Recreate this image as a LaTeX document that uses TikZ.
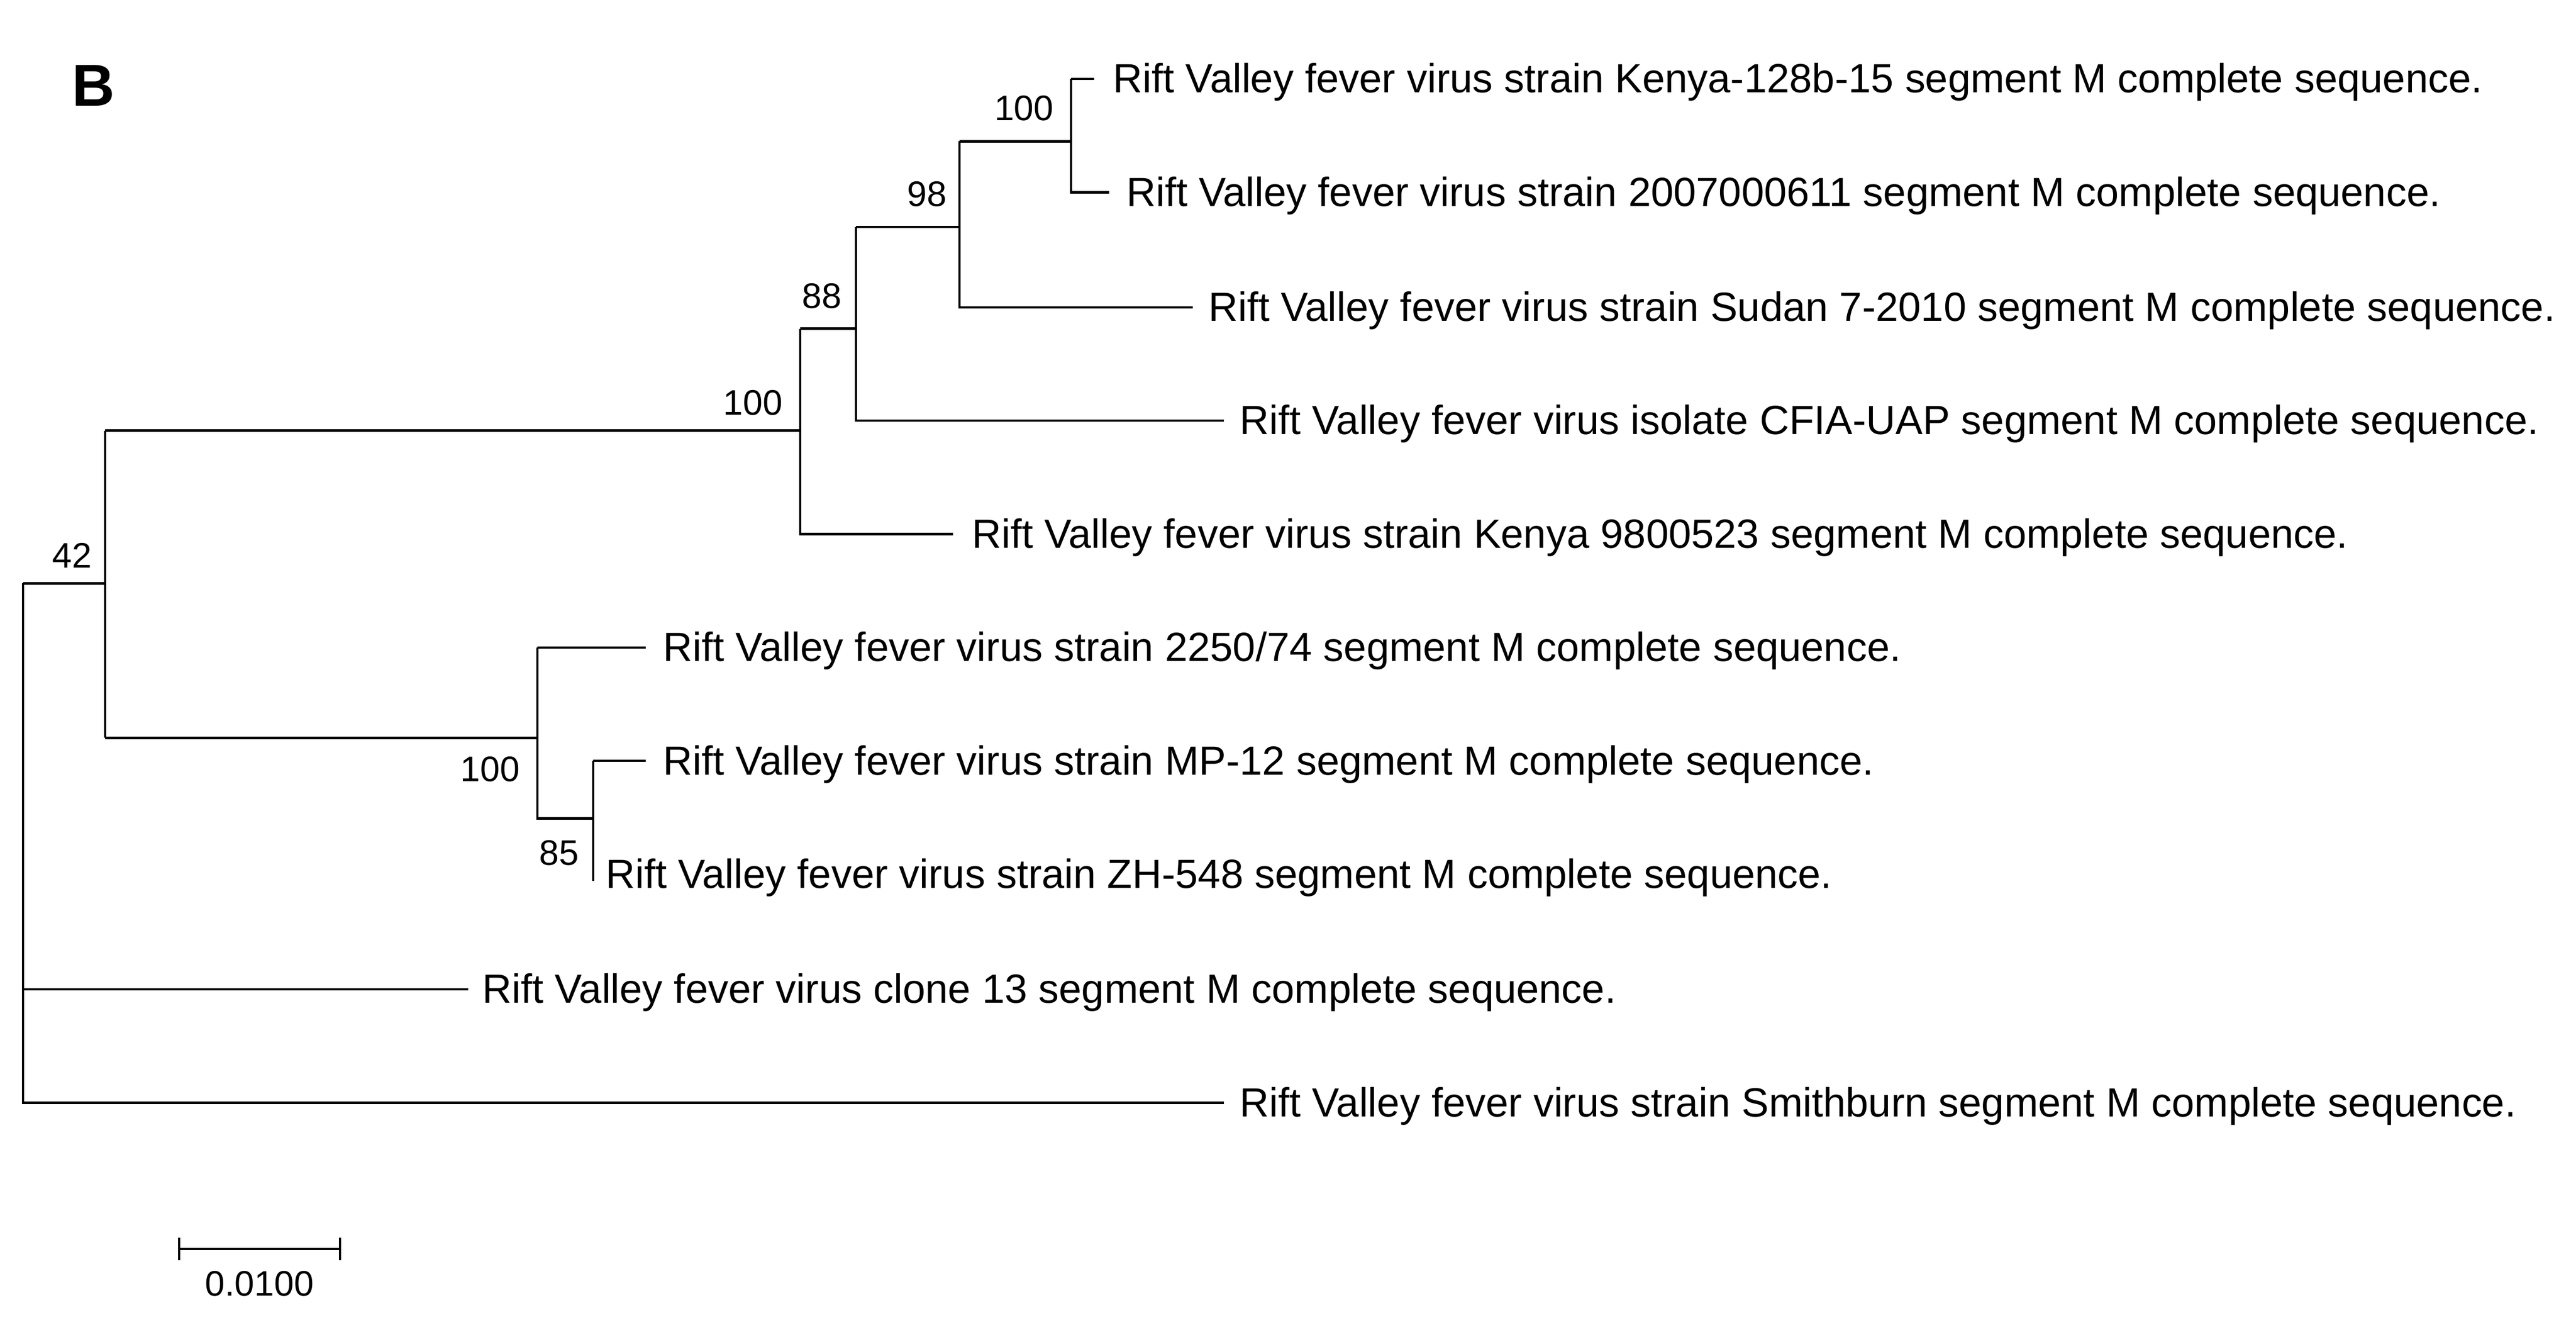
\documentclass[tikz,border=0pt]{standalone}
\usepackage{fontspec}
\setmainfont{Liberation Sans}
\begin{document}
\begin{tikzpicture}[x=0.5pt,y=-0.5pt,line width=0.7pt,
  lab/.style={anchor=west,inner sep=0pt,yshift=-1pt,font=\fontsize{12.4}{14}\selectfont},
  bs/.style={inner sep=0pt,font=\fontsize{10.8}{12}\selectfont}]
\useasboundingbox (0,0) rectangle (1568,809);
\node[font=\bfseries\fontsize{18}{20}\selectfont] at (57,52) {B};
% leaves
\node[lab] (a) at (677,48) {Rift Valley fever virus strain Kenya-128b-15 segment M complete sequence.};
\node[lab] (b) at (685,117) {Rift Valley fever virus strain 2007000611 segment M complete sequence.};
\node[lab] (c) at (735,187) {Rift Valley fever virus strain Sudan 7-2010 segment M complete sequence.};
\node[lab] (d) at (754,256) {Rift Valley fever virus isolate CFIA-UAP segment M complete sequence.};
\node[lab] (e) at (591,325) {Rift Valley fever virus strain Kenya 9800523 segment M complete sequence.};
\node[lab] (f) at (403,394) {Rift Valley fever virus strain 2250/74 segment M complete sequence.};
\node[lab] (g) at (403,463) {Rift Valley fever virus strain MP-12 segment M complete sequence.};
\node[lab] (h) at (368,532) {Rift Valley fever virus strain ZH-548 segment M complete sequence.};
\node[lab] (i) at (293,602) {Rift Valley fever virus clone 13 segment M complete sequence.};
\node[lab] (j) at (754,671) {Rift Valley fever virus strain Smithburn segment M complete sequence.};
% leaf ends
\coordinate (ea) at (666,48);
\coordinate (eb) at (675,117);
\coordinate (ec) at (726,187);
\coordinate (ed) at (745,256);
\coordinate (ee) at (580,325);
\coordinate (ef) at (393,394);
\coordinate (eg) at (393,463);
\coordinate (ei) at (285,602);
\coordinate (ej) at (745,671);
% branches
\draw (14,355) -- (64,355);
\draw (14,355) |- (ei);
\draw (14,355) |- (ej);
\draw (64,262) -- (64,449);
\draw (64,262) -- (487,262);
\draw (64,449) -- (327,449);
\draw (487,200) -- (487,325) -- (ee);
\draw (487,200) -- (521,200);
\draw (521,138) -- (521,256) -- (ed);
\draw (521,138) -- (584,138);
\draw (584,86) -- (584,187) -- (ec);
\draw (584,86) -- (652,86);
\draw (652,48) -- (652,117) -- (eb);
\draw (652,48) -- (ea);
\draw (327,394) -- (327,498) -- (361,498);
\draw (327,394) -- (ef);
\draw (361,463) -- (361,536);
\draw (361,463) -- (eg);
% bootstrap
\node[bs,anchor=east] at (642,66) {100};
\node[bs,anchor=east] at (577,118) {98};
\node[bs,anchor=east] at (513,180) {88};
\node[bs,anchor=east] at (477,245) {100};
\node[bs] at (44,338) {42};
\node[bs,anchor=east] at (317,468) {100};
\node[bs,anchor=east] at (353,519) {85};
% scale
\draw (109,760) -- (207,760);
\draw (109,753) -- (109,767);
\draw (207,753) -- (207,767);
\node[bs] at (158,781) {0.0100};
\end{tikzpicture}
\end{document}
